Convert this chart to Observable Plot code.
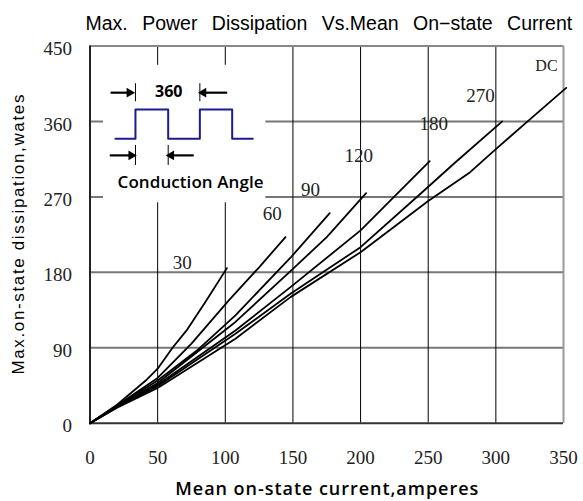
<!DOCTYPE html>
<html>
<head>
<meta charset="utf-8">
<script src="https://cdn.jsdelivr.net/npm/d3@7"></script>
<script src="https://cdn.jsdelivr.net/npm/@observablehq/plot@0.6"></script>
<style>
  html, body { margin: 0; padding: 0; background: #fff; }
</style>
</head>
<body>
<div id="chart"></div>
<script>
// ---- tick values ----
const xTicks = [0, 50, 100, 150, 200, 250, 300, 350];
const yTicks = [0, 90, 180, 270, 360, 450];
const xGrid = [50, 100, 150, 200, 250, 300];
const yGrid = [90, 180, 270, 360];

// ---- text ----
const titleText = "Max. Power Dissipation Vs.Mean On\u2212state Current";
const xLabelText = "Mean on-state current,amperes";
const yLabelText = "Max.on-state dissipation,wates";

// ---- series (conduction angle) : [current A, power W] ----
const curve30  = [[0,0],[20,22],[41,50.6],[50,65],[61,90],[72,112],[85.4,145],[101.2,185]];
const curve60  = [[0,0],[20,21],[50,54],[75,95],[102.6,146.6],[125,186],[144.5,222]];
const curve90  = [[0,0],[20,20.5],[50,51],[80,88],[107.5,128.7],[148.2,197.4],[177.2,250.6]];
const curve120 = [[0,0],[20,20],[50,48],[107.5,120.8],[148.2,181.4],[175,222],[204.1,274.5]];
const curve180 = [[0,0],[20,19.5],[50,46],[107.5,110.6],[148.2,162.3],[200,230],[251.1,312.6]];
const curve270 = [[0,0],[20,19],[50,44],[107.5,106.7],[148.2,154.4],[200,210],[244.3,273.7],[268.9,309.5],[304.7,360]];
const curveDC  = [[0,0],[20,18.5],[50,42],[107.5,100.7],[148.2,150.4],[200,204],[250,265],[281,299.5],[300,327],[325.6,363],[352,400]];

const seriesNames = ["30", "60", "90", "120", "180", "270", "DC"];
const seriesData = [curve30, curve60, curve90, curve120, curve180, curve270, curveDC];
// label anchor of each series, in chart units
const labelX = [68.1, 134.7, 163, 198.7, 254.1, 288.6, 337.4];
const labelY = [191, 249.9, 278.5, 318.3, 357.3, 391, 425.7];

// ---- inset diagram (chart units) ----
const insetBox = [{x1: 10, x2: 130, y1: 263, y2: 427}];
const insetWave = [[18.8,339.4],[33.6,339.4],[33.6,374.3],[57.8,374.3],[57.8,339.4],[81.2,339.4],[81.2,374.3],[105.1,374.3],[105.1,339.4],[120.3,339.4]];
const insetTicks = [
  {x: 33.6, y1: 383.5, y2: 405}, {x: 81.2, y1: 383.5, y2: 405},
  {x: 33.6, y1: 307.5, y2: 331.4}, {x: 57.8, y1: 307.5, y2: 331.4}
];
const insetArrows = [
  {x1: 15.2, x2: 29.9, y: 394.3, dir: 1},
  {x1: 101.4, x2: 84.6, y: 394.3, dir: -1},
  {x1: 14.6, x2: 31.2, y: 319.5, dir: 1},
  {x1: 76.7, x2: 60.8, y: 319.5, dir: -1}
];
const insetTexts = [
  {t: "360", x: 58.2, y: 395.1},
  {t: "Conduction Angle", x: 74.3, y: 287.6}
];

const rows = seriesData.flatMap((pts, i) => pts.map(([x, y]) => ({series: seriesNames[i], x, y})));
const labels = seriesNames.map((s, i) => ({s, x: labelX[i], y: labelY[i]}));

const serif = "'Liberation Serif', 'DejaVu Serif', serif";
const sans = "'Liberation Sans', Arial, sans-serif";
const sansBold = "'Open Sans', 'Noto Sans', sans-serif";

const chart = Plot.plot({
  width: 583,
  height: 501,
  marginLeft: 89.5,
  marginRight: 20,
  marginTop: 45.5,
  marginBottom: 78.3,
  style: {fontFamily: serif, background: "#fff", color: "#000"},
  x: {domain: [0, 350]},
  y: {domain: [0, 450]},
  marks: [
    // grid
    Plot.ruleY(yGrid, {stroke: "#777", strokeWidth: 2}),
    Plot.ruleX(xGrid, {stroke: "#000", strokeWidth: 1}),
    // inset white box hides grid
    Plot.rect(insetBox, {x1: "x1", x2: "x2", y1: "y1", y2: "y2", fill: "#fff"}),
    // frame
    Plot.ruleY([450], {stroke: "#888", strokeWidth: 2}),
    Plot.ruleX([350], {stroke: "#999", strokeWidth: 2}),
    Plot.ruleX([0], {stroke: "#222", strokeWidth: 2}),
    Plot.ruleY([0], {stroke: "#333", strokeWidth: 2}),
    // curves
    Plot.line(rows, {x: "x", y: "y", z: "series", stroke: "#000", strokeWidth: 1.8, curve: "linear"}),
    Plot.text(labels.filter(d => d.s !== "DC"), {x: "x", y: "y", text: "s", fontSize: 19, fill: "#222"}),
    Plot.text(labels.filter(d => d.s === "DC"), {x: "x", y: "y", text: "s", fontSize: 16, fill: "#222"}),
    // inset diagram
    Plot.line(insetWave, {x: d => d[0], y: d => d[1], stroke: "#1c1c8e", strokeWidth: 2}),
    Plot.ruleX(insetTicks, {x: "x", y1: "y1", y2: "y2", stroke: "#000", strokeWidth: 1}),
    Plot.link(insetArrows, {x1: "x1", x2: "x2", y1: "y", y2: "y", stroke: "#000", strokeWidth: 2.2}),
    Plot.dot(insetArrows, {x: "x2", y: "y", symbol: "triangle", r: 3.6, fill: "#000", stroke: null,
      rotate: d => d.dir > 0 ? 90 : -90, dx: -1}),
    Plot.text(insetTexts.slice(0, 1), {x: "x", y: "y", text: "t", fontFamily: sansBold, fontWeight: 700, fontSize: 16}),
    Plot.text(insetTexts.slice(1), {x: "x", y: "y", text: "t", fontFamily: sansBold, fontWeight: 600, fontSize: 17,
      ariaDescription: "inset-caption"}),
    // axes
    Plot.axisX(xTicks, {tickSize: 0, tickPadding: 27, fontSize: 19, fill: "#222"}),
    Plot.axisY(yTicks, {tickSize: 0, tickPadding: 18, fontSize: 19, dy: 3, fill: "#222"}),
    // titles
    Plot.text([titleText], {frameAnchor: "top-left", textAnchor: "start", lineAnchor: "middle", dx: -4.5, dy: -22.5,
      fontFamily: sans, fontSize: 19.5, fill: "#000", ariaDescription: "chart-title"}),
    Plot.text([xLabelText], {frameAnchor: "bottom", textAnchor: "middle", lineAnchor: "middle", dy: 66,
      fontFamily: sansBold, fontWeight: 600, fontSize: 18, fill: "#000", ariaDescription: "x-title"}),
    Plot.text([yLabelText], {frameAnchor: "left", textAnchor: "middle", lineAnchor: "middle", rotate: -90, dx: -71.5,
      fontFamily: sans, fontSize: 17, fill: "#000", ariaDescription: "y-title"})
  ]
});

// stretch long titles to the measured widths of the reference
function fitText(label, len) {
  d3.select(chart).selectAll(`g[aria-description="${label}"] text`)
    .attr("textLength", len).attr("lengthAdjust", "spacing");
}
d3.select(chart).selectAll(`g[aria-description="chart-title"] text`)
  .style("word-spacing", "9px");
fitText("x-title", 303);
fitText("y-title", 280);
fitText("inset-caption", 146);

document.getElementById("chart").appendChild(chart);
</script>
</body>
</html>
